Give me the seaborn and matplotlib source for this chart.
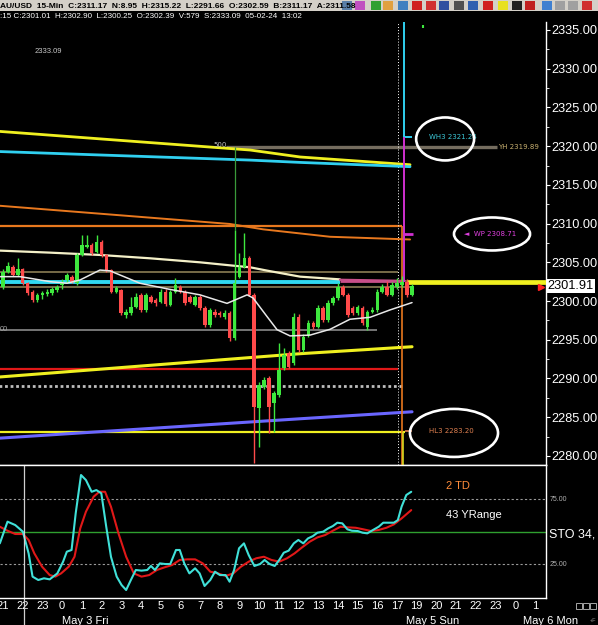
import numpy as np
import pandas as pd
import matplotlib
matplotlib.use('Agg')
import matplotlib.pyplot as plt
import matplotlib.transforms as mtransforms
from matplotlib.patches import Ellipse, Rectangle
import seaborn as sns

# ---------------- data ----------------
# x axis is measured in hours from the first "21" label, one 15-min candle = 0.25
hour_labels = ['21', '22', '23', '0', '1', '2', '3', '4', '5', '6', '7', '8', '9', '10',
               '11', '12', '13', '14', '15', '16', '17', '19', '20', '21', '22', '23', '0', '1']
date_labels = ['May 3 Fri', 'May 5 Sun', 'May 6 Mon']
date_pos = [4.16, 21.83, 27.77]

opens = [2301.86, 2303.80, 2304.45, 2303.37, 2304.10, 2302.29, 2301.22, 2300.14, 2300.79, 2300.92,
         2301.00, 2301.43, 2302.08, 2302.72, 2303.15, 2302.29, 2305.95, 2307.03, 2307.24, 2306.38,
         2307.67, 2305.95, 2304.02, 2301.22, 2301.43, 2298.21, 2298.42, 2299.28, 2300.79, 2298.85,
         2300.57, 2300.14, 2299.93, 2301.22, 2299.50, 2301.22, 2301.86, 2301.22, 2300.57, 2299.50,
         2300.57, 2299.07, 2296.91, 2298.64, 2298.42, 2297.99, 2298.42, 2295.19, 2303.15, 2304.45,
         2305.52, 2300.79, 2286.15, 2288.95, 2290.03, 2286.80, 2287.88, 2291.32, 2293.26, 2291.96,
         2297.99, 2293.69, 2295.62, 2297.13, 2296.70, 2299.07, 2297.56, 2299.71, 2300.36, 2301.86,
         2300.79, 2299.07, 2298.42, 2299.07, 2296.70, 2298.64, 2298.85, 2301.22, 2301.86, 2300.79,
         2301.86, 2302.08, 2302.51, 2300.79]
highs = [2304.10, 2305.10, 2304.70, 2305.50, 2304.30, 2302.50, 2301.40, 2301.00, 2301.30, 2301.60,
         2301.80, 2302.10, 2302.80, 2303.60, 2303.40, 2306.20, 2308.53, 2308.53, 2307.50, 2308.53,
         2307.90, 2306.10, 2304.20, 2301.90, 2301.60, 2299.00, 2300.50, 2301.00, 2301.00, 2301.00,
         2300.80, 2300.40, 2301.50, 2301.50, 2301.40, 2302.94, 2302.10, 2301.40, 2300.80, 2300.80,
         2300.80, 2299.30, 2299.10, 2299.00, 2298.70, 2298.80, 2298.70, 2309.18, 2306.17, 2308.75,
         2305.80, 2301.00, 2289.50, 2290.20, 2290.30, 2288.40, 2294.55, 2293.90, 2293.60, 2298.50,
         2298.30, 2295.80, 2297.50, 2297.40, 2299.50, 2299.40, 2300.10, 2300.60, 2302.30, 2302.10,
         2301.00, 2299.30, 2299.50, 2299.30, 2298.90, 2299.20, 2301.50, 2302.20, 2302.60, 2302.40,
         2303.00, 2303.20, 2302.80, 2302.20]
lows = [2301.60, 2303.60, 2303.20, 2303.20, 2302.10, 2300.80, 2299.90, 2299.90, 2300.30, 2300.60,
        2300.80, 2301.20, 2301.60, 2302.30, 2302.30, 2302.10, 2305.80, 2306.80, 2306.00, 2306.20,
        2305.70, 2303.80, 2301.00, 2301.00, 2298.20, 2297.77, 2298.20, 2299.10, 2298.60, 2298.60,
        2299.70, 2299.40, 2299.70, 2299.40, 2299.30, 2301.00, 2301.00, 2299.50, 2299.70, 2299.30,
        2298.90, 2296.60, 2296.70, 2297.90, 2297.90, 2297.70, 2294.80, 2295.00, 2303.00, 2304.30,
        2300.60, 2279.05, 2281.20, 2288.70, 2282.93, 2283.14, 2287.60, 2291.10, 2291.30, 2291.70,
        2293.40, 2293.40, 2295.40, 2296.40, 2296.50, 2297.30, 2297.30, 2299.50, 2300.10, 2300.60,
        2298.00, 2298.20, 2298.20, 2296.90, 2296.30, 2298.40, 2298.60, 2301.00, 2300.60, 2300.60,
        2301.60, 2301.80, 2300.50, 2300.60]
closes = [2303.80, 2304.53, 2303.37, 2304.10, 2302.29, 2301.00, 2300.14, 2300.79, 2301.00, 2301.22,
          2301.52, 2301.86, 2302.51, 2303.37, 2302.51, 2305.95, 2307.24, 2307.24, 2306.17, 2307.67,
          2305.95, 2304.02, 2301.22, 2301.65, 2298.42, 2298.64, 2299.28, 2300.57, 2298.85, 2300.79,
          2299.93, 2299.71, 2301.22, 2299.63, 2301.22, 2302.08, 2301.22, 2299.71, 2299.93, 2300.57,
          2299.07, 2296.91, 2298.85, 2298.21, 2298.21, 2298.42, 2295.19, 2302.29, 2304.45, 2305.52,
          2300.79, 2286.37, 2289.17, 2289.81, 2286.37, 2288.09, 2291.10, 2293.04, 2291.53, 2297.99,
          2293.69, 2295.41, 2297.13, 2296.70, 2299.07, 2297.56, 2299.71, 2300.36, 2301.86, 2300.79,
          2298.21, 2298.42, 2299.28, 2297.13, 2298.64, 2298.85, 2301.22, 2301.86, 2300.79, 2302.08,
          2302.29, 2302.50, 2300.79, 2301.91]

# moving averages / channels (hour, price)
ma_long_x = [-0.15, 2.39, 4.92, 7.46, 10.0, 11.68, 12.54, 13.4, 15.08, 17.1]
ma_long_y = [2306.51, 2306.25, 2305.95, 2305.52, 2305.0, 2304.57, 2304.36, 2303.93, 2303.15, 2302.8]
ma_pink_x = [17.1, 20.4]
ma_pink_y = [2302.75, 2302.6]
ma_short_x = [-0.15, 0.86, 1.37, 2.39, 3.25, 3.91, 4.92, 5.43, 6.95, 8.48, 10.0, 11.37, 12.39,
              12.69, 13.4, 13.91, 14.57, 15.58, 16.6, 17.61, 18.63, 19.64, 20.76]
ma_short_y = [2303.15, 2303.15, 2302.94, 2302.5, 2302.3, 2302.72, 2304.0, 2303.9, 2302.3, 2301.5,
              2300.8, 2299.7, 2300.8, 2300.4, 2298.0, 2296.3, 2295.5, 2295.6, 2296.35, 2297.65,
              2297.9, 2298.85, 2299.8]
hi_x = [-0.15, 12.54, 15.08, 20.66]
yellow_hi_y = [2321.9, 2319.5, 2318.6, 2317.6]
cyan_hi_y = [2319.3, 2318.2, 2317.9, 2317.35]
orange_sl_x = [-0.15, 11.52, 13.2, 16.6, 20.66]
orange_sl_y = [2312.3, 2309.95, 2309.26, 2308.3, 2307.95]
lo_x = [-0.15, 15.08, 20.76]
yellow_lo_y = [2290.2, 2293.2, 2294.1]
blue_lo_y = [2282.3, 2284.8, 2285.7]

# stochastic (hour, value)
sto_k_x = [-0.16, 0.23, 0.62, 1.01, 1.30, 1.50, 1.79, 2.08, 2.37, 2.76, 3.05, 3.24, 3.48, 3.69,
           3.96, 4.21, 4.50, 4.74, 4.99, 5.24, 5.48, 5.77, 6.02, 6.25, 6.49, 6.74, 7.03, 7.32,
           7.51, 7.71, 7.96, 8.23, 8.49, 8.78, 8.97, 9.20, 9.46, 9.75, 9.98, 10.23, 10.52, 10.76,
           11.01, 11.30, 11.50, 11.73, 11.98, 12.23, 12.47, 12.76, 13.05, 13.28, 13.53, 13.79,
           14.02, 14.25, 14.50, 14.76, 14.99, 15.24, 15.48, 15.73, 15.96, 16.25, 16.50, 16.74,
           16.97, 17.22, 17.48, 17.71, 18.00, 18.25, 18.49, 18.78, 19.07, 19.30, 19.55, 19.84,
           20.04, 20.23, 20.47, 20.72]
sto_k_y = [40.9, 57.6, 55.0, 49.9, 33.2, 15.3, 12.7, 14.0, 13.2, 17.8, 26.8, 34.5, 35.8, 64.0,
           93.5, 89.6, 80.6, 81.9, 79.4, 53.7, 30.6, 15.3, 8.8, 5.0, 12.7, 20.4, 19.9, 20.4,
           23.5, 20.4, 25.5, 25.0, 25.0, 35.8, 35.8, 25.5, 17.8, 21.7, 17.8, 8.1, 12.7, 19.1,
           16.5, 16.5, 11.4, 20.4, 37.1, 40.9, 31.9, 23.5, 25.0, 28.1, 25.0, 23.5,
           28.1, 33.7, 35.3, 40.9, 43.5, 40.9, 44.7, 46.5, 49.1, 49.9, 52.4, 54.2,
           56.8, 56.3, 51.7, 50.6, 50.4, 49.1, 48.6, 51.2, 53.7, 56.8, 56.8, 56.8,
           58.8, 69.1, 78.1, 80.6]
sto_d_x = [-0.16, 0.23, 0.62, 1.01, 1.30, 1.59, 1.98, 2.37, 2.66, 2.95, 3.34, 3.63, 3.92, 4.21,
           4.60, 4.89, 5.18, 5.48, 5.86, 6.25, 6.64, 7.03, 7.42, 7.81, 8.19, 8.58, 8.97, 9.36,
           9.75, 10.14, 10.52, 10.91, 11.30, 11.69, 12.08, 12.47, 12.85, 13.24, 13.63, 14.02,
           14.41, 14.80, 15.18, 15.57, 15.96, 16.35, 16.74, 17.13, 17.51, 17.90, 18.29, 18.68,
           19.07, 19.46, 19.84, 20.23, 20.72]
sto_d_y = [53.7, 50.6, 48.1, 48.1, 43.5, 33.2, 23.0, 16.5, 15.3, 17.8, 23.0, 30.6, 52.4, 65.3,
           76.8, 80.6, 80.6, 69.1, 48.6, 30.6, 17.8, 15.3, 16.5, 20.4, 22.4, 24.2, 28.1, 28.6,
           28.6, 25.5, 19.1, 17.8, 15.8, 17.8, 23.0, 26.8, 29.4, 30.6, 28.1, 26.8,
           29.4, 33.2, 37.8, 42.2, 45.5, 47.3, 50.6, 53.7, 53.2, 52.9, 51.7, 50.4,
           51.2, 52.9, 55.5, 60.1, 66.5]

header = ('AU/USD  15-Min  C:2311.17  N:8.95  H:2315.22  L:2291.66  O:2302.59  '
          'B:2311.17  A:2311.58')
header2 = ':15 C:2301.01  H:2302.90  L:2300.25  O:2302.39  V:579  S:2333.09  05-02-24  13:02'

# ---------------- style ----------------
sns.set_theme(style='dark', rc={'axes.facecolor': 'black', 'figure.facecolor': 'black',
                                'axes.grid': False, 'axes.edgecolor': 'white'})
plt.rcParams['font.family'] = ['Liberation Sans', 'DejaVu Sans']

GREEN = '#3ee83e'
RED = '#ff4a4a'

fig = plt.figure(figsize=(5.98, 6.25), dpi=100)
ax = fig.add_axes([0, 1 - 465 / 625, 546 / 598, 443 / 625])
ax2 = fig.add_axes([0, 1 - 598 / 625, 546 / 598, 133 / 625], sharex=ax)

# ---------------- candles ----------------
df = pd.DataFrame({'open': opens, 'high': highs, 'low': lows, 'close': closes})
df['t'] = np.arange(len(df)) * 0.25
up = df['close'] >= df['open']
cols = np.where(up, GREEN, RED)
ax.vlines(df['t'], df['low'], df['high'], colors=cols, lw=1, zorder=4)
ax.bar(df['t'], (df['close'] - df['open']).abs().clip(lower=0.15),
       bottom=np.minimum(df['open'], df['close']), width=0.18, color=cols, lw=0, zorder=5)

# ---------------- horizontal levels ----------------
ax.hlines(2309.7, -0.2, 20.25, color='#e8781e', lw=1.6, zorder=2)
ax.hlines(2303.7, -0.2, 20.05, color='#8b7d55', lw=1.2, zorder=2)
ax.hlines(2301.85, -0.2, 20.66, color='#8b7d55', lw=1.2, zorder=2)
ax.hlines(2302.5, -0.2, 17.1, color='#30d8f0', lw=2.8, zorder=3)
ax.hlines(2302.55, 17.1, 20.3, color='#c84f8a', lw=2.0, zorder=3)
ax.hlines(2296.27, -0.2, 19.0, color='#8a8a8a', lw=1.2, zorder=2)
ax.hlines(2291.2, -0.2, 20.05, color='#e01818', lw=1.6, zorder=2)
ax.hlines(2289.0, -0.2, 20.3, color='#bdbdbd', lw=2.0, ls=(0, (1, 1)), zorder=2)
ax.hlines(2283.1, -0.2, 20.4, color='#f0f020', lw=1.6, zorder=2)
ax.hlines(2283.2, 20.4, 20.76, color='#e08050', lw=1.2, zorder=2)
ax.hlines(2319.89, 11.3, 25.08, color='#756d5f', lw=2.4, zorder=2)
ax.hlines(2302.45, 20.46, 27.6, color='#f0f020', lw=3.4, zorder=3)

# sloped channels and averages
sns.lineplot(x=hi_x, y=yellow_hi_y, ax=ax, color='#f0f020', lw=2.0, zorder=3)
sns.lineplot(x=hi_x, y=cyan_hi_y, ax=ax, color='#30d0f0', lw=2.0, zorder=3)
sns.lineplot(x=orange_sl_x, y=orange_sl_y, ax=ax, color='#e8781e', lw=1.4, zorder=3)
sns.lineplot(x=lo_x, y=yellow_lo_y, ax=ax, color='#f0f020', lw=2.2, zorder=3)
sns.lineplot(x=lo_x, y=blue_lo_y, ax=ax, color='#6a66ff', lw=2.2, zorder=3)
sns.lineplot(x=ma_long_x, y=ma_long_y, ax=ax, color='#f4f0c8', lw=1.6, zorder=3)
sns.lineplot(x=ma_pink_x, y=ma_pink_y, ax=ax, color='#c84f8a', lw=1.6, zorder=3)
sns.lineplot(x=ma_short_x, y=ma_short_y, ax=ax, color='#e8e8e8', lw=1.1, zorder=6,
             sort=False)

# vertical markers
ax.axvline(20.05, color='white', lw=0.7, ls=(0, (1, 2)), zorder=2)
ax.vlines(20.25, 2278.8, 2309.7, color='#e8781e', lw=1.2, zorder=3)
ax.vlines(20.33, 2321.24, 2337.0, color='#30d0f0', lw=1.4, zorder=3)
ax.hlines(2321.24, 20.33, 20.78, color='#30d0f0', lw=1.4, zorder=3)
ax.vlines(20.36, 2302.5, 2321.24, color='#d030d0', lw=1.4, zorder=3)
ax.hlines(2308.6, 20.36, 20.82, color='#d030d0', lw=2.0, zorder=3)
ax.vlines(20.3, 2278.8, 2283.1, color='#d8d820', lw=1.2, zorder=3)
ax.vlines(11.75, 2309.2, 2319.89, color='#3a9a3a', lw=0.9, zorder=3)
ax.vlines(21.3, 2335.2, 2335.7, color=GREEN, lw=1.5, zorder=3)
ax.plot(27.3, 2301.8, marker='>', color='#ff2020', ms=4, zorder=6, clip_on=False)

# labels inside the chart
ax.text(10.66, 2320.1, '500', color='#c0c0c0', fontsize=5, va='center', family='DejaVu Sans')
ax.text(21.6, 2321.24, 'WH3 2321.24', color='#3cc8d8', fontsize=5, va='center',
        family='DejaVu Sans')
ax.text(25.12, 2319.89, 'YH 2319.89', color='#c8b070', fontsize=5, va='center',
        family='DejaVu Sans')
ax.text(23.4, 2308.71, '\u25c4  WP 2308.71', color='#e040e0', fontsize=5, va='center',
        family='DejaVu Sans')
ax.text(21.6, 2283.2, 'HL3 2283.20', color='#e08050', fontsize=5, va='center',
        family='DejaVu Sans')
ax.text(1.62, 2332.16, '2333.09', color='#c8c8c8', fontsize=5.5, va='center')
ax.text(-0.15, 2296.27, '00', color='#a0a0a0', fontsize=5.5, va='center')

for (cx, cy, w, h) in [(22.44, 2320.93, 2.94, 5.55), (24.82, 2308.66, 3.86, 4.26),
                       (22.89, 2282.97, 4.47, 6.2)]:
    ax.add_patch(Ellipse((cx, cy), w, h, fill=False, ec='white', lw=1.9, zorder=7))

# axis setup, price panel
ax.set_xlim(-0.152, 27.56)
ax.set_ylim(2278.83, 2336.03)
ax.yaxis.tick_right()
ax.set_yticks(np.arange(2280, 2336, 5))
ax.set_yticklabels(['%.2f' % v for v in np.arange(2280, 2336, 5)])
ax.set_yticks(np.arange(2282.5, 2336, 5), minor=True)
ax.tick_params(axis='y', which='major', colors='white', labelsize=9.2, length=3, width=0.8,
               pad=1, direction='out')
ax.tick_params(axis='y', which='minor', colors='white', length=2, width=0.6, direction='out')
ax.tick_params(axis='x', bottom=False, labelbottom=False)
for s in ['left', 'top']:
    ax.spines[s].set_visible(False)
for s in ['right', 'bottom']:
    ax.spines[s].set_color('white')
    ax.spines[s].set_linewidth(1)
ax.set_xlabel('')
ax.set_ylabel('')

bt = mtransforms.blended_transform_factory(ax.transAxes, ax.transData)
ax.text(1.003, 2301.91, '2301.91', transform=bt, color='black', fontsize=9.2, va='center',
        ha='left', bbox=dict(fc='white', ec='none', pad=0.6))

# ---------------- stochastic panel ----------------
ax2.axhline(75, color='#9a9a9a', lw=0.8, ls=(0, (2, 2)))
ax2.axhline(25, color='#9a9a9a', lw=0.8, ls=(0, (2, 2)))
ax2.axhline(50, color='#2f9f2f', lw=1.0)
sns.lineplot(x=sto_d_x, y=sto_d_y, ax=ax2, color='#e01818', lw=1.5)
sns.lineplot(x=sto_k_x, y=sto_k_y, ax=ax2, color='#40e0d8', lw=1.5)
ax2.axvline(1.07, ymin=-0.2, ymax=1, color='#d0d0d0', lw=0.9, clip_on=False)

ax2.text(22.5, 85, '2 TD', color='#ff8c3a', fontsize=8, va='center')
ax2.text(22.5, 63, '43 YRange', color='white', fontsize=8, va='center')
bt2 = mtransforms.blended_transform_factory(ax2.transAxes, ax2.transData)
ax2.text(1.006, 75, '75.00', transform=bt2, color='#b0b0b0', fontsize=5, va='center')
ax2.text(1.006, 25, '25.00', transform=bt2, color='#b0b0b0', fontsize=5, va='center')
ax2.text(1.006, 48, 'STO 34,', transform=bt2, color='white', fontsize=9, va='center')

ax2.set_ylim(-1.15, 101.2)
ax2.set_yticks([])
ax2.set_xticks(range(len(hour_labels)))
ax2.set_xticklabels(hour_labels)
ax2.tick_params(axis='x', colors='white', labelsize=8, length=0, pad=2)
for s in ['left']:
    ax2.spines[s].set_visible(False)
for s in ['right', 'bottom', 'top']:
    ax2.spines[s].set_color('white')
    ax2.spines[s].set_linewidth(1)
ax2.set_xlabel('')
ax2.set_ylabel('')
bx = mtransforms.blended_transform_factory(ax2.transData, ax2.transAxes)
for lab, pos in zip(date_labels, date_pos):
    ax2.text(pos, -0.175, lab, transform=bx, color='white', fontsize=8, ha='center',
             va='center')
fig.text(590 / 598, 1 - 620 / 625, '+F', color='#909090', fontsize=4, va='center')
for i in range(3):
    fig.patches.append(Rectangle(((576 + i * 7) / 598, 1 - 609 / 625), 6 / 598, 6 / 625,
                                 transform=fig.transFigure, fill=False, ec='#c0c0c0', lw=0.6))

# ---------------- header bars ----------------
fig.patches.append(Rectangle((0, 1 - 11 / 625), 1, 11 / 625, transform=fig.transFigure,
                             fc='#d4d0c8', ec='none'))
fig.text(0.0, 1 - 6 / 625, header, color='black', fontsize=6.0, fontweight='bold',
         va='center', ha='left')
fig.text(0.0, 1 - 16 / 625, header2, color='white', fontsize=5.8, va='center', ha='left')
icon_px = [347, 360, 376, 388, 403, 417, 431, 444, 459, 473, 488, 503, 517, 530, 547, 560, 573, 587]
icon_cols = ['#5a7fa8', '#c050c0', '#30a030', '#e0a040', '#4080c0', '#d02020', '#d03030',
             '#3050a0', '#505050', '#3060b0', '#d02020', '#e8e020', '#202020', '#c02020',
             '#4080d0', '#a0a0a0', '#a0a0a0', '#d03030']
for px, c in zip(icon_px, icon_cols):
    fig.patches.append(Rectangle(((px - 5) / 598, 1 - 10 / 625), 10 / 598, 9 / 625,
                                 transform=fig.transFigure, fc=c, ec='none'))

fig.savefig('out.png', dpi=100, facecolor='black')
